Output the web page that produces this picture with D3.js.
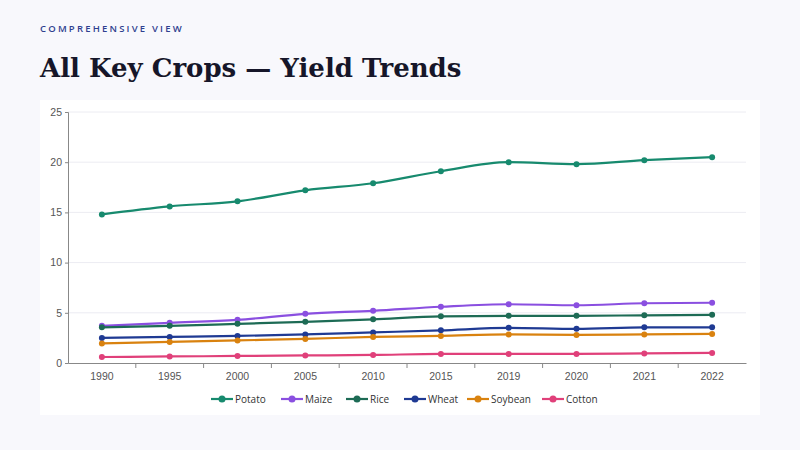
<!DOCTYPE html>
<html><head><meta charset="utf-8">
<script src="https://cdn.jsdelivr.net/npm/d3@7"></script>
<style>
body{margin:0;background:#f8f8fc;width:800px;height:450px;overflow:hidden;font-family:"Open Sans",sans-serif;}
</style></head><body>
<svg id="chart" width="800" height="450"></svg>
<script>
const years = ['1990','1995','2000','2005','2010','2015','2019','2020','2021','2022'];
const series = [
  { name: 'Potato', color: '#178a6e', values: [14.8,15.6,16.1,17.2,17.9,19.1,20.0,19.8,20.2,20.5] },
  { name: 'Maize', color: '#8a4fe0', values: [3.7,4.0,4.3,4.9,5.2,5.6,5.85,5.75,5.95,6.0] },
  { name: 'Rice', color: '#1d6b55', values: [3.55,3.7,3.9,4.1,4.35,4.65,4.7,4.7,4.75,4.8] },
  { name: 'Wheat', color: '#1f3a93', values: [2.5,2.6,2.7,2.85,3.05,3.25,3.5,3.4,3.55,3.55] },
  { name: 'Soybean', color: '#d9820f', values: [1.95,2.1,2.25,2.4,2.6,2.7,2.85,2.8,2.85,2.9] },
  { name: 'Cotton', color: '#e0407a', values: [0.6,0.65,0.7,0.75,0.8,0.9,0.9,0.9,0.95,1.0] }
];

const svg = d3.select('#chart');
svg.append('text').attr('x', 40).attr('y', 32)
  .style('font-size', '9.5px').style('letter-spacing', '2.2px').style('font-weight', 600)
  .attr('fill', '#2f3f8f').text('COMPREHENSIVE VIEW');
svg.append('text').attr('x', 40).attr('y', 77)
  .style('font-family', '"DejaVu Serif",serif').style('font-size', '26px').style('font-weight', 'bold')
  .attr('fill', '#161629').text('All Key Crops — Yield Trends');

svg.append('rect').attr('x', 40).attr('y', 100).attr('width', 720).attr('height', 315).attr('fill', '#fff');

const plotLeft = 68, plotRight = 746, plotTop = 112, plotBottom = 363;
const x = d3.scaleBand().domain(years).range([plotLeft, plotRight]);
const y = d3.scaleLinear().domain([0, 25]).range([plotBottom, plotTop]);

svg.append('g').selectAll('line').data(y.ticks(5).slice(1)).enter().append('line')
  .attr('x1', plotLeft).attr('x2', plotRight).attr('y1', d => y(d)).attr('y2', d => y(d))
  .attr('stroke', '#ececf2');

const yAxis = svg.append('g').attr('transform', `translate(${plotLeft},0)`)
  .call(d3.axisLeft(y).ticks(5).tickSize(3));
const xAxis = svg.append('g').attr('transform', `translate(0,${plotBottom})`)
  .call(d3.axisBottom(x).tickSize(0).tickPadding(10));
xAxis.append('g').selectAll('line').data(years.slice(1)).enter().append('line')
  .attr('x1', d => x(d)).attr('x2', d => x(d)).attr('y1', 0).attr('y2', 5).attr('stroke', '#888');
[yAxis, xAxis].forEach(a => {
  a.select('.domain').attr('stroke', '#888');
  a.selectAll('.tick line').attr('stroke', '#888');
  a.selectAll('text').style('font-size', '10.5px').attr('fill', '#555');
});

const line = d3.line().x((d, i) => x(years[i]) + x.bandwidth() / 2).y(d => y(d)).curve(d3.curveMonotoneX);
const sg = svg.selectAll('.series').data(series).enter().append('g');
sg.append('path').attr('d', d => line(d.values)).attr('fill', 'none')
  .attr('stroke', d => d.color).attr('stroke-width', 2.2);
sg.each(function (s) {
  d3.select(this).selectAll('circle').data(s.values).enter().append('circle')
    .attr('cx', (d, i) => x(years[i]) + x.bandwidth() / 2).attr('cy', d => y(d))
    .attr('r', 3).attr('fill', s.color);
});

const legW = [62, 57, 50, 55, 67, 55];
let lx = 211;
const leg = svg.append('g').attr('transform', 'translate(0,399)');
series.forEach((s, i) => {
  const g = leg.append('g').attr('transform', `translate(${lx},0)`);
  g.append('line').attr('x1', 0).attr('x2', 22).attr('stroke', s.color).attr('stroke-width', 2.2);
  g.append('circle').attr('cx', 11).attr('r', 3.5).attr('fill', s.color);
  g.append('text').attr('x', 24).attr('y', 3.5).style('font-size', '10px').attr('fill', '#333').text(s.name);
  lx += legW[i] + 8;
});
</script>
</body></html>
